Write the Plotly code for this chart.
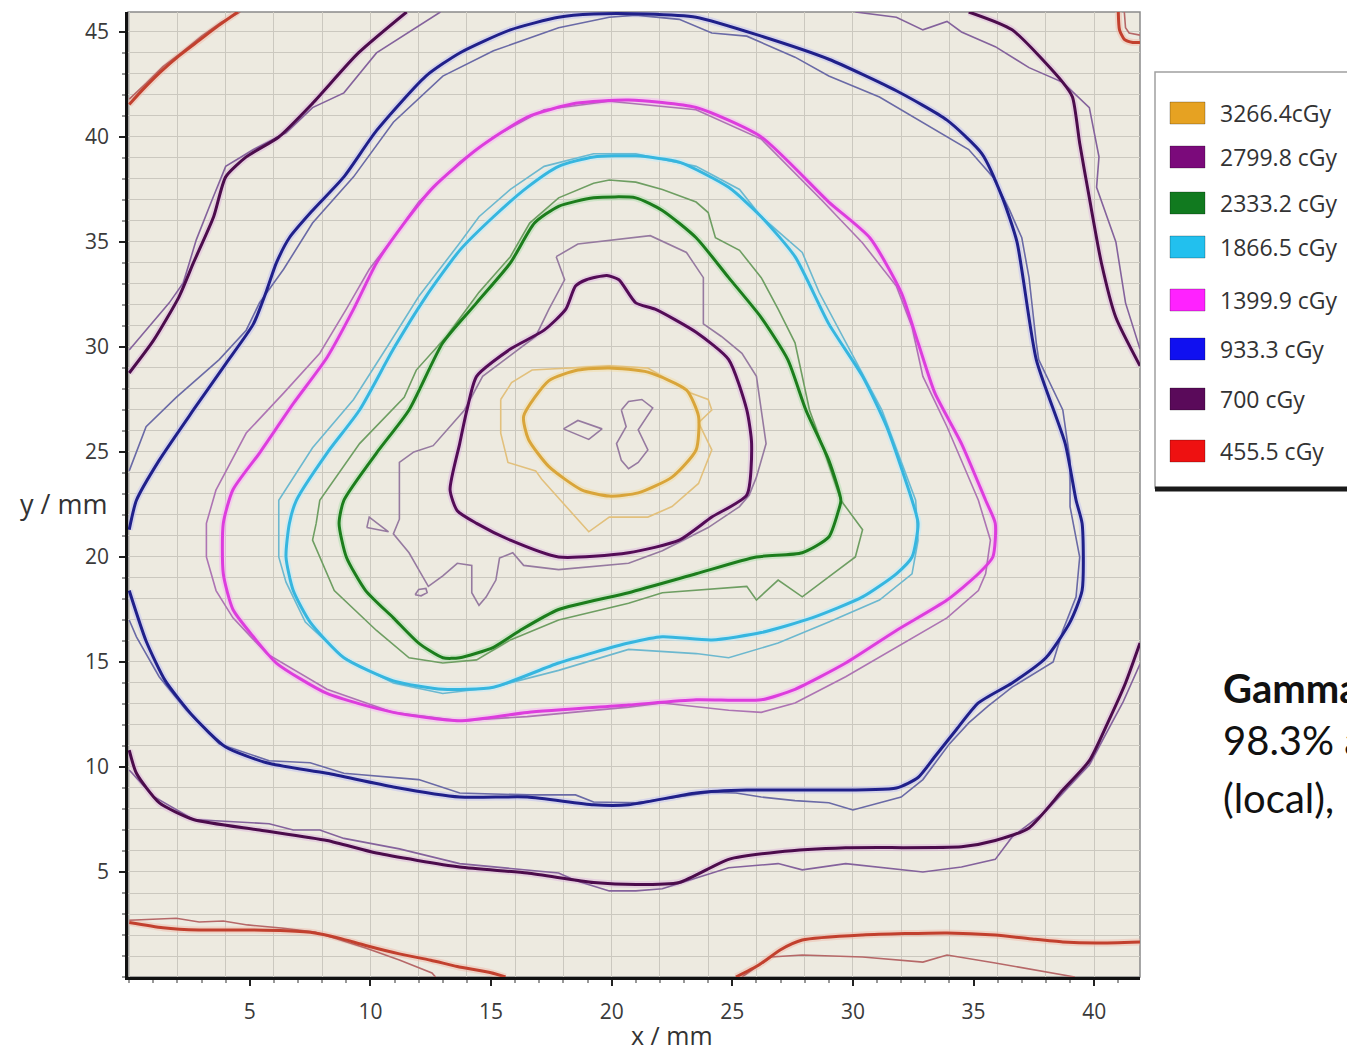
import plotly.graph_objects as go

# ---------------- figure geometry (screen pixels) ----------------
WIN_W, WIN_H = 1355, 1060
OFF = 8                       # default body margin of the html page
FIG_W, FIG_H = WIN_W - 2 * OFF, WIN_H - 2 * OFF
PLOT_L, PLOT_R, PLOT_T, PLOT_B = 128, 1140, 12, 977

# ---------------- axes ----------------
x_range = [-0.05, 41.9]
y_range = [0.0, 45.95]
x_tick_vals = [5, 10, 15, 20, 25, 30, 35, 40]
y_tick_vals = [5, 10, 15, 20, 25, 30, 35, 40, 45]

# ---------------- legend ----------------
dose_labels = ["3266.4cGy", "2799.8 cGy", "2333.2 cGy", "1866.5 cGy",
               "1399.9 cGy", "933.3 cGy", "700 cGy", "455.5 cGy"]
legend_colors = ["#e6a222", "#7b0a7b", "#117a1f", "#22c0ee",
                 "#ff22ff", "#1010f0", "#5a0a5a", "#ee1111"]

# ---------------- isodose lines (x mm, y mm) ----------------
# level index: 0=3266.4, 1=2799.8, 2=2333.2, 3=1866.5, 4=1399.9, 5=933.3, 6=700, 7=455.5
iso455_calc_tl = [(0.0, 41.55), (0.6, 42.3), (1.3, 43.1), (2.1, 43.9), (2.9, 44.6), (3.7, 45.3), (4.5, 45.95)]
iso455_meas_tl = [(0.0, 41.8), (0.7, 42.55), (1.4, 43.35), (2.2, 44.05), (3.0, 44.8), (3.8, 45.45), (4.6, 45.95)]
iso455_calc_bl = [(0.0, 2.6), (1.4, 2.35), (2.9, 2.24), (4.9, 2.24), (6.5, 2.2), (7.7, 2.1), (8.7, 1.85),
                  (9.8, 1.5), (11.2, 1.1), (12.5, 0.8), (13.6, 0.5), (15.0, 0.2), (15.6, 0.0)]
iso455_meas_bl = [(0.0, 2.7), (1.95, 2.8), (2.9, 2.62), (3.9, 2.67), (4.9, 2.48), (6.3, 2.33), (7.7, 2.14),
                  (9.8, 1.38), (11.2, 0.81), (12.55, 0.19), (12.7, 0.0)]
iso455_calc_br = [(25.15, 0.0), (26.1, 0.57), (27.0, 1.3), (27.9, 1.76), (30.4, 2.0), (33.9, 2.1), (35.9, 2.0),
                  (37.5, 1.8), (38.7, 1.67), (40.1, 1.62), (41.9, 1.67)]
iso455_meas_br = [(25.4, 0.0), (26.6, 0.95), (27.9, 1.05), (30.4, 0.95), (32.9, 0.71), (33.9, 1.05),
                  (35.9, 0.67), (38.0, 0.24), (39.2, 0.0)]
iso455_calc_tr = [(41.0, 45.95), (41.05, 45.1), (41.25, 44.65), (41.6, 44.5), (41.9, 44.5)]
iso455_meas_tr = [(41.25, 45.95), (41.3, 45.2), (41.45, 44.95), (41.9, 44.85)]

iso700_calc_ul = [(0.0, 28.76), (1.0, 30.3), (2.07, 32.4), (2.66, 34.0), (3.5, 36.2), (4.0, 38.1), (4.85, 39.05),
                  (6.2, 40.0), (7.6, 41.6), (9.5, 44.0), (11.5, 45.95)]
iso700_meas_ul = [(0.0, 29.86), (1.0, 31.2), (1.66, 32.1), (2.24, 33.05), (2.78, 35.1), (3.4, 36.9), (4.0, 38.6),
                  (5.15, 39.4), (6.5, 40.2), (7.6, 41.4), (8.9, 42.1), (10.25, 44.0), (12.9, 45.95)]
iso700_calc_ur = [(34.8, 45.95), (36.6, 45.1), (38.7, 42.6), (39.1, 41.9), (39.4, 39.7), (39.8, 37.1),
                  (40.3, 34.0), (40.9, 31.4), (41.9, 29.1)]
iso700_meas_ur = [(30.1, 45.95), (31.8, 45.7), (32.9, 45.1), (33.9, 45.5), (34.5, 45.0), (35.9, 44.3),
                  (37.3, 43.3), (38.7, 42.6), (39.8, 41.4), (40.2, 39.05), (40.1, 37.6), (40.9, 35.0),
                  (41.3, 32.1), (41.9, 29.9)]
iso700_calc_lo = [(0.0, 10.8), (0.3, 9.7), (1.24, 8.3), (2.66, 7.5), (5.4, 7.0), (8.2, 6.5), (10.25, 5.9),
                  (13.7, 5.24), (16.5, 4.95), (19.25, 4.5), (21.0, 4.4), (22.8, 4.5), (24.85, 5.6),
                  (26.9, 5.95), (29.7, 6.15), (34.5, 6.2), (35.9, 6.5), (37.3, 7.1), (38.7, 8.9),
                  (39.8, 10.3), (40.6, 12.2), (41.3, 14.0), (41.9, 15.9)]
iso700_meas_lo = [(0.0, 9.86), (1.0, 8.6), (2.66, 7.5), (5.8, 7.3), (6.8, 7.0), (7.9, 7.0), (8.9, 6.6),
                  (10.7, 6.2), (11.2, 6.1), (13.7, 5.4), (17.8, 4.95), (18.5, 4.6), (19.9, 4.1), (21.0, 4.1),
                  (22.1, 4.2), (24.85, 5.2), (26.9, 5.4), (27.9, 5.1), (29.7, 5.4), (32.9, 5.0), (34.5, 5.24),
                  (35.9, 5.6), (36.6, 6.67), (38.0, 7.9), (39.8, 10.1), (41.2, 13.1), (41.9, 14.9)]

iso933_calc = [(0.0, 21.3), (0.3, 22.7), (1.24, 24.6), (2.66, 27.0), (4.0, 29.2), (5.15, 31.1), (5.7, 32.7),
               (6.1, 34.0), (6.64, 35.2), (7.6, 36.5), (8.9, 38.1), (10.25, 40.3), (12.3, 42.9), (13.7, 44.0),
               (15.8, 45.1), (17.8, 45.7), (19.25, 45.85), (21.4, 45.85), (23.5, 45.7), (26.2, 44.8),
               (29.0, 43.7), (31.8, 42.2), (33.9, 40.8), (35.35, 39.2), (36.2, 37.1), (36.8, 35.0),
               (37.6, 29.4), (38.8, 25.4), (39.25, 22.7), (39.5, 21.6), (39.5, 18.4), (39.0, 16.9),
               (38.0, 15.2), (36.6, 14.0), (35.2, 13.05), (34.3, 11.8), (33.4, 10.5), (32.7, 9.5),
               (31.8, 9.0), (28.3, 8.9), (25.6, 8.9), (23.5, 8.76), (20.7, 8.2), (19.25, 8.2), (16.5, 8.57),
               (13.7, 8.57), (10.95, 9.05), (8.2, 9.7), (5.7, 10.2), (4.0, 10.95), (2.66, 12.4), (1.5, 14.1),
               (0.7, 16.0), (0.0, 18.4)]
iso933_meas = [(0.0, 24.1), (0.7, 26.2), (1.95, 27.6), (3.73, 29.4), (4.85, 30.8), (5.4, 32.1), (6.4, 33.7),
               (7.6, 35.9), (9.3, 38.1), (10.95, 40.7), (13.0, 42.9), (15.1, 44.1), (17.8, 45.2), (19.9, 45.7),
               (21.0, 45.8), (22.8, 45.6), (24.15, 44.95), (25.6, 44.8), (27.6, 43.8), (29.0, 42.9),
               (31.1, 41.9), (33.15, 40.5), (34.8, 39.4), (35.8, 38.1), (36.5, 36.5), (37.0, 35.2),
               (37.3, 33.3), (37.6, 30.2), (37.7, 29.4), (38.7, 27.0), (39.0, 24.6), (39.0, 22.4),
               (39.4, 20.0), (39.25, 18.1), (38.7, 16.5), (38.3, 15.0), (36.6, 13.8), (35.6, 12.9),
               (34.8, 12.1), (34.0, 11.1), (32.9, 9.4), (32.0, 8.57), (31.1, 8.3), (30.0, 7.95), (29.0, 8.3),
               (27.6, 8.4), (26.2, 8.57), (25.15, 8.76), (24.15, 8.8), (21.0, 8.3), (19.25, 8.33),
               (18.5, 8.67), (16.5, 8.67), (13.7, 8.76), (12.0, 9.4), (8.9, 9.7), (7.5, 10.2), (5.8, 10.3),
               (3.73, 11.1), (2.37, 12.7), (1.24, 14.3), (0.3, 16.2), (0.0, 17.0)]

iso1400_calc = [(4.3, 23.2), (5.4, 24.95), (6.8, 27.3), (8.2, 29.5), (9.3, 31.8), (10.25, 34.0), (11.4, 35.9),
                (12.6, 37.6), (14.4, 39.4), (16.5, 40.95), (18.5, 41.6), (20.7, 41.76), (23.5, 41.4),
                (26.2, 40.0), (29.0, 36.9), (30.7, 35.2), (32.0, 32.6), (32.7, 30.2), (33.4, 27.8),
                (34.5, 25.4), (35.5, 22.7), (35.9, 21.6), (35.8, 20.0), (35.2, 19.2), (33.9, 17.95),
                (31.8, 16.5), (29.7, 14.95), (27.6, 13.7), (26.2, 13.2), (23.5, 13.2), (20.7, 12.95),
                (16.5, 12.6), (13.7, 12.2), (10.95, 12.6), (8.2, 13.5), (6.1, 14.95), (5.15, 16.2),
                (4.3, 17.5), (3.9, 19.2), (3.9, 21.6)]
iso1400_meas = [(3.6, 23.2), (4.85, 25.9), (6.4, 27.8), (7.9, 29.7), (9.0, 31.8), (9.95, 33.7), (10.95, 35.2),
                (12.0, 36.9), (13.7, 38.8), (15.1, 40.0), (17.2, 41.3), (19.9, 41.7), (23.5, 41.3),
                (26.2, 39.9), (28.7, 37.0), (30.4, 34.95), (31.8, 32.9), (32.45, 30.95), (32.9, 28.6),
                (33.9, 26.2), (35.2, 22.7), (35.7, 20.8), (35.5, 19.2), (35.2, 18.4), (33.9, 17.1),
                (31.8, 15.7), (29.7, 14.3), (27.6, 13.05), (26.2, 12.6), (24.85, 12.7), (22.1, 13.05),
                (20.7, 12.85), (16.5, 12.4), (13.7, 12.2), (10.95, 12.6), (8.2, 13.7), (5.7, 15.4),
                (4.3, 17.1), (3.6, 18.4), (3.2, 20.0), (3.2, 21.6)]

iso1866_calc = [(6.64, 21.6), (6.93, 22.7), (8.2, 24.95), (9.55, 27.0), (10.95, 29.9), (12.3, 32.4),
                (13.7, 34.6), (15.1, 36.2), (16.5, 37.6), (17.8, 38.6), (19.25, 39.05), (21.0, 39.1),
                (22.8, 38.8), (24.85, 37.6), (26.2, 36.2), (27.6, 34.3), (29.0, 31.1), (30.4, 28.6),
                (31.4, 26.2), (32.45, 22.7), (32.7, 21.6), (32.45, 20.0), (31.8, 19.2), (30.4, 18.1),
                (28.3, 17.1), (26.2, 16.4), (24.15, 16.05), (22.1, 16.2), (20.7, 15.9), (17.8, 14.95),
                (15.1, 13.8), (13.0, 13.7), (10.95, 14.1), (8.9, 15.2), (7.5, 16.9), (6.8, 18.4), (6.5, 20.0)]
iso1866_meas = [(6.2, 21.6), (6.2, 22.7), (7.6, 25.2), (9.3, 27.5), (10.8, 30.2), (12.0, 32.4), (13.7, 34.95),
                (14.5, 36.2), (15.8, 37.5), (17.2, 38.6), (19.25, 39.2), (21.0, 39.2), (23.5, 38.6),
                (25.3, 37.5), (26.2, 36.2), (27.9, 34.5), (28.6, 32.6), (30.1, 29.4), (31.2, 27.0),
                (32.6, 22.7), (32.7, 20.8), (32.45, 19.2), (31.1, 17.95), (29.0, 16.9), (26.9, 15.9),
                (24.85, 15.2), (23.5, 15.4), (20.7, 15.6), (17.8, 14.6), (15.1, 13.8), (13.0, 13.5),
                (10.95, 14.0), (8.9, 15.2), (7.3, 16.9), (6.5, 18.8), (6.2, 20.0)]

iso2333_calc = [(8.7, 21.6), (8.9, 22.7), (10.25, 24.95), (11.6, 27.0), (13.0, 30.2), (14.4, 32.1),
                (15.8, 34.0), (16.8, 35.9), (17.8, 36.7), (19.25, 37.1), (21.0, 37.1), (22.1, 36.5),
                (23.5, 35.2), (24.85, 33.3), (26.2, 31.4), (27.3, 29.4), (28.05, 27.0), (29.0, 24.6),
                (29.5, 22.7), (29.4, 22.2), (29.0, 20.95), (27.9, 20.2), (26.0, 20.0), (23.5, 19.2),
                (20.7, 18.3), (17.8, 17.5), (16.2, 16.5), (15.1, 15.7), (13.7, 15.2), (13.0, 15.2),
                (12.0, 15.9), (10.95, 17.1), (9.8, 18.4), (9.0, 20.0)]
iso2333_meas = [(7.75, 21.6), (7.9, 22.7), (9.55, 25.4), (11.4, 27.6), (11.9, 28.9), (13.15, 30.5),
                (14.5, 32.6), (15.8, 34.3), (16.6, 35.9), (17.8, 37.1), (19.25, 37.8), (19.9, 37.95),
                (21.0, 37.85), (22.1, 37.5), (23.5, 36.9), (24.0, 36.4), (24.3, 35.2), (25.3, 34.6),
                (26.2, 33.3), (26.9, 31.8), (27.6, 30.2), (27.9, 28.6), (28.2, 27.0), (28.7, 25.4),
                (29.5, 22.7), (30.4, 21.3), (30.1, 20.0), (29.0, 19.05), (27.9, 18.1), (26.9, 18.9),
                (26.0, 17.95), (25.6, 18.6), (23.5, 18.4), (22.1, 18.3), (20.7, 17.8), (17.8, 17.0),
                (15.8, 16.05), (14.4, 15.1), (13.0, 14.95), (11.6, 15.2), (10.25, 16.5), (8.5, 18.4),
                (7.6, 20.8)]

iso2800_calc = [(13.3, 23.2), (13.7, 25.4), (14.0, 27.0), (14.4, 28.6), (15.8, 29.9), (17.2, 30.8),
                (18.1, 31.8), (18.5, 32.9), (18.95, 33.2), (19.8, 33.4), (20.3, 33.2), (21.0, 32.1),
                (21.8, 31.8), (23.5, 30.7), (24.85, 29.4), (25.6, 27.0), (25.8, 25.4), (25.6, 22.95),
                (24.15, 21.9), (22.8, 20.8), (20.7, 20.2), (17.8, 20.0), (15.8, 20.8), (14.4, 21.6),
                (13.6, 22.2)]
iso2800_meas = [(17.7, 34.3), (18.6, 34.9), (21.6, 35.3), (23.1, 34.5), (23.8, 33.3), (23.8, 31.1),
                (24.55, 30.5), (25.4, 29.7), (26.0, 28.6), (26.2, 27.0), (26.4, 25.4), (26.0, 23.8),
                (25.7, 22.95), (25.3, 22.4), (24.0, 21.4), (22.1, 20.3), (20.7, 19.7), (17.8, 19.4),
                (16.35, 19.6), (15.9, 20.2), (15.35, 19.95), (15.2, 18.9), (14.8, 18.1), (14.5, 17.7),
                (14.2, 18.3), (14.2, 19.6), (13.6, 19.7), (13.0, 19.1), (12.4, 18.6), (12.0, 19.4),
                (11.6, 20.2), (10.95, 21.1), (11.2, 21.8), (11.2, 23.2), (11.2, 24.5), (11.8, 25.0),
                (12.6, 25.3), (13.9, 27.0), (14.65, 28.6), (16.85, 30.5), (17.4, 31.8), (18.05, 33.2)]
iso2800_meas_tri = [(9.85, 21.4), (9.95, 21.9), (10.75, 21.2)]
iso2800_meas_dot = [(11.85, 18.2), (12.0, 18.45), (12.3, 18.5), (12.35, 18.3), (12.1, 18.15)]
iso2800_meas_isl1 = [(18.0, 26.1), (18.6, 26.5), (19.6, 26.1), (19.05, 25.6)]
iso2800_meas_isl2 = [(20.4, 27.0), (20.7, 27.4), (21.25, 27.5), (21.7, 27.1), (21.1, 26.05), (21.5, 25.1),
                     (21.1, 24.5), (20.7, 24.2), (20.4, 24.6), (20.2, 25.4), (20.4, 25.8), (20.6, 26.2)]

iso3266_calc = [(16.35, 26.7), (17.4, 28.4), (18.6, 28.9), (19.9, 29.0), (21.5, 28.8), (23.1, 27.95),
                (23.6, 26.7), (23.5, 25.1), (22.5, 23.8), (21.1, 23.05), (19.9, 22.9), (18.75, 23.2),
                (17.4, 24.3), (16.55, 25.6)]
iso3266_meas = [(15.4, 27.5), (15.85, 28.3), (16.7, 28.9), (18.1, 29.0), (19.9, 29.1), (21.5, 29.0),
                (23.3, 27.8), (24.0, 27.5), (24.15, 27.0), (23.6, 26.4), (24.15, 25.1), (23.6, 23.5),
                (22.5, 22.4), (21.5, 21.9), (19.9, 21.9), (19.05, 21.2), (18.1, 22.4), (17.1, 23.7),
                (16.85, 24.1), (15.7, 24.5), (15.4, 25.9)]

# (points, level index, closed)
calc_lines = [
    (iso455_calc_tl, 7, False), (iso455_calc_bl, 7, False), (iso455_calc_br, 7, False), (iso455_calc_tr, 7, False),
    (iso700_calc_ul, 6, False), (iso700_calc_ur, 6, False), (iso700_calc_lo, 6, False),
    (iso933_calc, 5, False), (iso1400_calc, 4, True), (iso1866_calc, 3, True),
    (iso2333_calc, 2, True), (iso2800_calc, 1, True), (iso3266_calc, 0, True),
]
meas_lines = [
    (iso455_meas_tl, 7, False), (iso455_meas_bl, 7, False), (iso455_meas_br, 7, False), (iso455_meas_tr, 7, False),
    (iso700_meas_ul, 6, False), (iso700_meas_ur, 6, False), (iso700_meas_lo, 6, False),
    (iso933_meas, 5, False), (iso1400_meas, 4, True), (iso1866_meas, 3, True),
    (iso2333_meas, 2, True), (iso2800_meas, 1, True), (iso2800_meas_tri, 1, True), (iso2800_meas_dot, 1, True),
    (iso2800_meas_isl1, 1, True), (iso2800_meas_isl2, 1, True), (iso3266_meas, 0, True),
]

calc_colors = ["#d9a53a", "#540c57", "#1c7d1c", "#36b6df", "#dd3ddd", "#20208a", "#4c0c4c", "#c2402e"]
halo_colors = ["#f3dca0", "#dcb4e0", "#a8dca8", "#b8ecff", "#f8b0f8", "#bcbcf4", "#dcb4dc", "#f0b8a8"]
meas_colors = ["#e2c07c", "#967aa0", "#6e9e62", "#6cb8cf", "#ad74b3", "#6a6aa6", "#84629c", "#b66868"]


def xs_ys(pts, closed):
    p = list(pts) + ([pts[0]] if closed else [])
    return [a for a, _ in p], [b for _, b in p]


fig = go.Figure()

# halos of calculated lines
for pts, lv, cl in calc_lines:
    x, y = xs_ys(pts, cl)
    fig.add_trace(go.Scatter(x=x, y=y, mode="lines", xaxis="x", yaxis="y",
                             line=dict(color=halo_colors[lv], width=7, shape="spline", smoothing=0.6),
                             opacity=0.45, hoverinfo="skip", showlegend=False))
# measured (thin) lines
for pts, lv, cl in meas_lines:
    x, y = xs_ys(pts, cl)
    fig.add_trace(go.Scatter(x=x, y=y, mode="lines", xaxis="x", yaxis="y",
                             line=dict(color=meas_colors[lv], width=1.6),
                             hoverinfo="skip", showlegend=False))
# calculated (thick) lines
for pts, lv, cl in calc_lines:
    x, y = xs_ys(pts, cl)
    fig.add_trace(go.Scatter(x=x, y=y, mode="lines", xaxis="x2", yaxis="y",
                             line=dict(color=calc_colors[lv], width=3, shape="spline", smoothing=0.6),
                             hoverinfo="skip", showlegend=False))


def px_x(px):
    return (px - PLOT_L) / (PLOT_R - PLOT_L)


def px_y(py):
    return (PLOT_B - py) / (PLOT_B - PLOT_T)


grid_col = "#cbc8bf"
tick_font = dict(family="Open Sans, DejaVu Sans, sans-serif", size=21, color="#3a3a3a")

shapes = [
    dict(type="rect", xref="paper", yref="paper", x0=0, x1=1, y0=0, y1=1,
         line=dict(color="#8a8a8a", width=1.5), fillcolor="rgba(0,0,0,0)", layer="below"),
    # legend box
    dict(type="rect", xref="paper", yref="paper", x0=px_x(1155), x1=px_x(1370), y0=px_y(488), y1=px_y(72),
         line=dict(color="#a0a0a0", width=1.5), fillcolor="white", layer="above"),
    dict(type="line", xref="paper", yref="paper", x0=px_x(1155), x1=px_x(1370), y0=px_y(489), y1=px_y(489),
         line=dict(color="#1a1a1a", width=5), layer="above"),
]
annotations = [
    dict(text="x / mm", xref="paper", yref="paper", x=px_x(672), y=px_y(1035), showarrow=False,
         font=dict(family="Open Sans, DejaVu Sans, sans-serif", size=25, color="#333"),
         xanchor="center", yanchor="middle"),
    dict(text="y / mm", xref="paper", yref="paper", x=px_x(63), y=px_y(503), showarrow=False,
         font=dict(family="Open Sans, DejaVu Sans, sans-serif", size=27, color="#333"),
         xanchor="center", yanchor="middle"),
]

legend_item_y = [113, 157, 203, 247, 300, 349, 399, 451]
for lab, col, iy in zip(dose_labels, legend_colors, legend_item_y):
    shapes.append(dict(type="rect", xref="paper", yref="paper", x0=px_x(1170), x1=px_x(1205),
                       y0=px_y(iy + 11), y1=px_y(iy - 11), line=dict(color="rgba(0,0,0,0.25)", width=1),
                       fillcolor=col, layer="above"))
    annotations.append(dict(text=lab, xref="paper", yref="paper", x=px_x(1218), y=px_y(iy), showarrow=False,
                            xanchor="left", yanchor="middle",
                            font=dict(family="Open Sans, DejaVu Sans, sans-serif", size=23, color="#333")))

gamma_lines = ["<b>Gamma analysis:</b>", "98.3% at 3%/3mm", "(local), 10% threshold"]
gamma_y = [688, 740, 798]
for t, gy in zip(gamma_lines, gamma_y):
    annotations.append(dict(text=t, xref="paper", yref="paper", x=px_x(1221), y=px_y(gy), showarrow=False,
                            xanchor="left", yanchor="middle",
                            font=dict(family="Lato, Open Sans, sans-serif", size=40, color="#111")))

fig.update_layout(
    width=FIG_W, height=FIG_H,
    margin=dict(l=PLOT_L - OFF, r=FIG_W + OFF - PLOT_R, t=PLOT_T - OFF, b=FIG_H + OFF - PLOT_B, pad=0),
    paper_bgcolor="white", plot_bgcolor="#edeae0",
    showlegend=False,
    xaxis=dict(range=x_range, tick0=0, dtick=2, showgrid=True, gridcolor=grid_col, gridwidth=1,
               showticklabels=False, ticks="", showline=False, zeroline=False),
    xaxis2=dict(overlaying="x", matches="x", anchor="y", side="bottom", range=x_range,
                tickvals=x_tick_vals, ticks="outside", ticklen=6, tickwidth=1.5, tickcolor="#222",
                showgrid=False, showline=True, linecolor="#111", linewidth=2.5, zeroline=False,
                tickfont=tick_font, ticklabelstandoff=8,
                minor=dict(dtick=1, tick0=0, ticks="outside", ticklen=3, tickcolor="#999", showgrid=False)),
    yaxis=dict(range=y_range, tickvals=y_tick_vals, ticks="outside", ticklen=6, tickwidth=1.5, tickcolor="#222",
               showgrid=True, gridcolor=grid_col, gridwidth=1, showline=True, linecolor="#111", linewidth=2.5,
               zeroline=False, tickfont=tick_font, ticklabelstandoff=6,
               minor=dict(dtick=1, tick0=0, ticks="outside", ticklen=3, tickcolor="#999",
                          showgrid=True, gridcolor=grid_col, gridwidth=1)),
    shapes=shapes, annotations=annotations,
)

fig.write_html("out.html")
